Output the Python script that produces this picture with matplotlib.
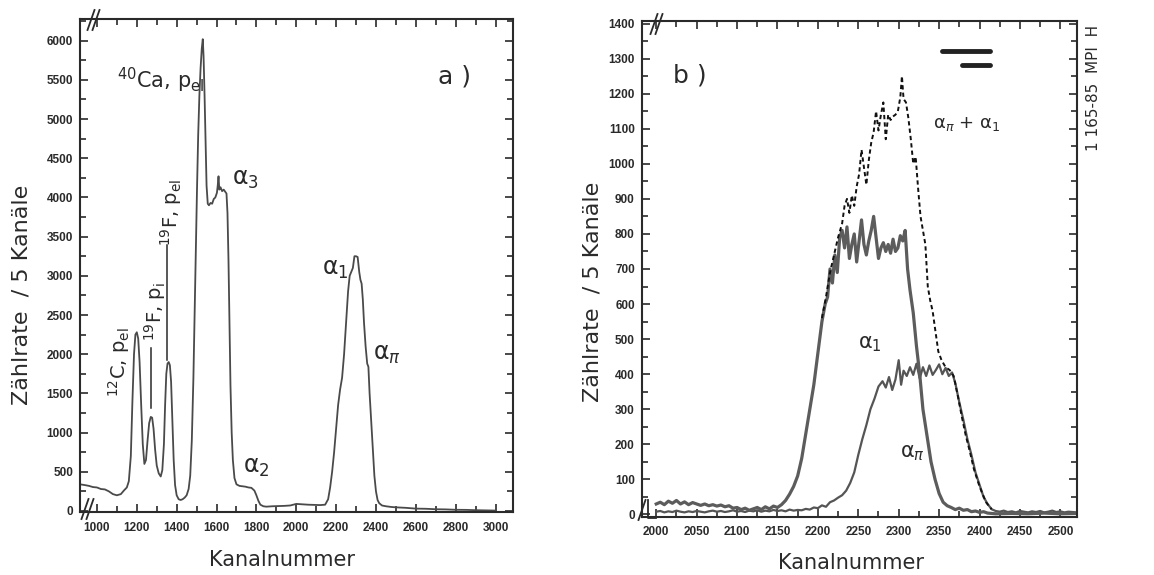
import matplotlib; matplotlib.use('Agg')
import matplotlib.pyplot as plt
from matplotlib.ticker import MultipleLocator
from matplotlib.lines import Line2D

plt.rcParams['font.family'] = ['DejaVu Sans']
plt.rcParams['mathtext.fontset'] = 'dejavusans'
INK = '#2a2a2a'

# ---- panel a) full spectrum (Kanal, Zaehlrate / 5 Kanaele)
kanal_a = [915, 940, 960, 980, 1000, 1020, 1040, 1060, 1080, 1100, 1120, 1135, 1150,
           1160, 1170, 1178, 1186, 1193, 1200, 1207, 1214, 1222, 1230, 1238, 1246,
           1254, 1262, 1270, 1277, 1284, 1292, 1300, 1310, 1320, 1328, 1336, 1342,
           1348, 1354, 1360, 1366, 1372, 1378, 1385, 1392, 1400, 1410, 1420, 1430,
           1440, 1450, 1460, 1468, 1476, 1484, 1490, 1496, 1502, 1508, 1514, 1520,
           1526, 1531, 1535, 1540, 1545, 1550, 1556, 1562, 1570, 1578, 1586, 1594,
           1602, 1606, 1610, 1614, 1620, 1628, 1636, 1644, 1650, 1655, 1660, 1665,
           1670, 1676, 1682, 1690, 1700, 1715, 1730, 1745, 1760, 1775, 1790, 1800,
           1810, 1820, 1835, 1850, 1880, 1910, 1940, 1970, 2000, 2030, 2060, 2090,
           2120, 2145, 2160, 2170, 2180, 2190, 2200, 2210, 2220, 2230, 2240, 2250,
           2260, 2268, 2276, 2284, 2292, 2300, 2308, 2316, 2322, 2328, 2334, 2340,
           2348, 2356, 2362, 2368, 2376, 2384, 2392, 2400, 2408, 2416, 2430, 2450,
           2480, 2510, 2550, 2600, 2650, 2700, 2750, 2800, 2850, 2900, 2950, 3000]
zr_a = [340, 330, 320, 305, 300, 280, 275, 250, 215, 200, 215, 260, 300,
        380, 700, 1400, 2000, 2250, 2280, 2200, 1900, 1350, 850, 600, 650,
        900, 1120, 1200, 1190, 1050, 780, 580, 480, 440, 520, 850, 1350,
        1750, 1880, 1900, 1860, 1650, 1200, 650, 330, 200, 150, 140, 150,
        170, 200, 280, 450, 900, 1700, 2500, 3300, 4100, 4800, 5300, 5650,
        5900, 6020, 5800, 5300, 4700, 4150, 3920, 3900, 3930, 3920, 3980, 4000,
        4060, 4150, 4270, 4100, 4130, 4080, 4100, 4070, 4050, 3800, 3200, 2400,
        1600, 1000, 650, 420, 340, 320, 315, 310, 300, 295, 260, 200,
        130, 80, 60, 55, 60, 62, 65, 70, 90, 85, 80, 78,
        75, 80, 150, 300, 500, 750, 1050, 1350, 1550, 1700, 2000, 2400,
        2800, 3000, 3050, 3100, 3250, 3250, 3240, 3050, 2950, 2900, 2700, 2400,
        2100, 1880, 1840, 1500, 1150, 800, 450, 250, 140, 100, 70, 60,
        50, 45, 40, 30, 28, 22, 20, 15, 14, 10, 8, 5]

# ---- panel b) alpha_1, alpha_pi and their sum
kanal_1 = [2000, 2005, 2010, 2015, 2020, 2025, 2030, 2035, 2040, 2045, 2050, 2055,
           2060, 2065, 2070, 2075, 2080, 2085, 2090, 2095, 2100, 2105, 2110, 2115,
           2120, 2125, 2130, 2135, 2140, 2145, 2150, 2155, 2160, 2165, 2170, 2175,
           2180, 2185, 2190, 2195, 2200, 2205, 2209, 2212, 2215, 2218, 2221, 2224,
           2227, 2230, 2233, 2236, 2239, 2242, 2245, 2248, 2251, 2254, 2257, 2260,
           2263, 2266, 2269, 2272, 2275, 2278, 2281, 2284, 2287, 2290, 2293, 2296,
           2299, 2302, 2305, 2308, 2311, 2314, 2318, 2322, 2326, 2330, 2335, 2340,
           2345, 2350, 2355, 2360, 2365, 2370, 2375, 2380, 2385, 2390, 2395, 2400,
           2405, 2410, 2415, 2420, 2440, 2460, 2480, 2500, 2520]
alpha1 = [30, 35, 28, 38, 32, 40, 30, 36, 28, 34, 30, 26,
          30, 25, 28, 24, 27, 22, 25, 18, 20, 14, 18, 12,
          16, 20, 14, 22, 16, 24, 20, 28, 40, 58, 80, 110,
          160, 230, 300, 370, 460, 550, 600, 620, 700, 660, 740, 690,
          790, 810, 760, 820, 730, 770, 800, 720, 780, 840, 770, 740,
          780, 810, 850, 790, 730, 760, 775, 750, 770, 745, 785, 750,
          760, 795, 780, 810, 700, 640, 575, 480, 400, 300, 225, 150,
          100, 60, 35, 25, 20, 14, 18, 12, 14, 8, 10, 6,
          8, 4, 3, 2, 3, 2, 4, 2, 3]

kanal_pi = [2000, 2005, 2010, 2015, 2020, 2025, 2030, 2035, 2040, 2045, 2050, 2055,
            2060, 2065, 2070, 2075, 2080, 2085, 2090, 2095, 2100, 2105, 2110, 2115,
            2120, 2125, 2130, 2135, 2140, 2145, 2150, 2155, 2160, 2165, 2170, 2175,
            2180, 2185, 2190, 2195, 2200, 2205, 2210, 2215, 2220, 2225, 2230, 2235,
            2240, 2245, 2250, 2255, 2260, 2265, 2270, 2275, 2280, 2284, 2288, 2292,
            2296, 2300, 2303, 2306, 2310, 2314, 2318, 2322, 2326, 2330, 2334, 2338,
            2342, 2346, 2350, 2354, 2358, 2362, 2366, 2370, 2375, 2380, 2385, 2390,
            2395, 2400, 2405, 2410, 2415, 2420, 2425, 2430, 2435, 2440, 2445, 2450,
            2455, 2460, 2465, 2470, 2475, 2480, 2485, 2490, 2495, 2500, 2505, 2510,
            2515, 2520]
alpha_pi = [8, 10, 6, 9, 7, 11, 8, 6, 9, 7, 10, 8,
            6, 9, 11, 8, 10, 7, 9, 12, 8, 10, 7, 11,
            9, 12, 8, 11, 9, 13, 10, 12, 9, 14, 11, 13,
            12, 16, 14, 20, 18, 26, 22, 35, 40, 48, 55, 68,
            90, 120, 170, 215, 255, 300, 330, 365, 380, 362, 392, 355,
            385, 440, 370, 410, 395, 420, 398, 430, 388, 420, 395, 425,
            398, 412, 428, 400, 418, 395, 405, 375, 320, 270, 215, 170,
            120, 85, 50, 30, 15, 10, 8, 11, 7, 9, 6, 10,
            8, 6, 9, 7, 10, 6, 8, 11, 7, 9, 6, 8,
            7, 6]

kanal_sum = [2205, 2210, 2215, 2220, 2225, 2230, 2233, 2236, 2239, 2242, 2245, 2248,
             2251, 2254, 2257, 2260, 2263, 2266, 2269, 2272, 2275, 2278, 2281, 2284,
             2287, 2290, 2293, 2296, 2299, 2302, 2304, 2306, 2309, 2312, 2315, 2318,
             2321, 2324, 2327, 2330, 2333, 2336, 2339, 2342, 2345, 2349, 2353, 2358,
             2363, 2368, 2373, 2378, 2383, 2388, 2393, 2400, 2408, 2415]
alpha_sum = [560, 620, 690, 740, 790, 830, 880, 900, 860, 910, 880, 935,
             970, 1040, 990, 940, 1010, 1060, 1090, 1150, 1095, 1140, 1175, 1070,
             1140, 1125, 1135, 1140, 1150, 1190, 1250, 1185, 1175, 1130, 1070, 1000,
             1020, 930, 850, 810, 770, 650, 610, 580, 530, 465, 440, 420,
             412, 395, 340, 280, 225, 180, 130, 80, 35, 15]

xt_a = [1000, 1200, 1400, 1600, 1800, 2000, 2200, 2400, 2600, 2800, 3000]
yt_a = [0, 500, 1000, 1500, 2000, 2500, 3000, 3500, 4000, 4500, 5000, 5500, 6000]
xt_b = [2000, 2050, 2100, 2150, 2200, 2250, 2300, 2350, 2400, 2450, 2500]
yt_b = [0, 100, 200, 300, 400, 500, 600, 700, 800, 900, 1000, 1100, 1200, 1300, 1400]

W, H = 1154, 575
fig = plt.figure(figsize=(W / 100, H / 100), dpi=100)
ax_a = fig.add_axes([80 / W, 1 - 512.3 / H, 432.5 / W, 493 / H])
ax_b = fig.add_axes([641.7 / W, 1 - 517.3 / H, 435.6 / W, 496.6 / H])


def style(ax, xt, yt, xmin, ymin, xpad):
    for s in ax.spines.values():
        s.set_linewidth(1.5)
        s.set_color(INK)
    tkw = dict(fontfamily='Liberation Sans', fontweight='bold', fontsize=8.5, color=INK)
    ax.set_xticks(xt, labels=[str(v) for v in xt], **tkw)
    ax.set_yticks(yt, labels=[str(v) for v in yt], **tkw)
    ax.xaxis.set_minor_locator(MultipleLocator(xmin))
    ax.yaxis.set_minor_locator(MultipleLocator(ymin))
    ax.tick_params(which='both', direction='in', top=True, right=True, color=INK, width=1.2)
    ax.tick_params(which='major', length=6)
    ax.tick_params(which='minor', length=4)
    ax.tick_params(axis='x', pad=xpad)
    ax.tick_params(axis='y', pad=5)


def slash(x, y, h=10, w=3.5):
    # short slanted stroke, figure pixel coords from the top left
    fig.add_artist(Line2D([(x - w) / W, (x + w) / W], [1 - (y + h) / H, 1 - (y - h) / H],
                          color=INK, lw=1.3))


# panel a
ax_a.plot(kanal_a, zr_a, color='#4a4a4a', lw=1.3)
ax_a.set_xlim(915, 3085)
ax_a.set_ylim(-17, 6273)
style(ax_a, xt_a, yt_a, 100, 250, 7)

ax_a.text(1100, 5400, r'$^{40}$Ca, p$_{\mathrm{el}}$', fontsize=15, color=INK)
ax_a.text(2709, 5459, 'a )', fontsize=18, color=INK)
ax_a.text(1679, 4158, r'α$_3$', fontsize=17, color=INK)
ax_a.text(2131, 3010, r'α$_1$', fontsize=17, color=INK)
ax_a.text(2387, 1926, r'α$_\pi$', fontsize=17, color=INK)
ax_a.text(1734, 485, r'α$_2$', fontsize=17, color=INK)
ax_a.text(1110, 1900, r'$^{12}$C, p$_{\mathrm{el}}$', fontsize=14, rotation=90,
          ha='center', va='center', color=INK)
ax_a.text(1292, 2540, r'$^{19}$F, p$_{\mathrm{i}}$', fontsize=14, rotation=90,
          ha='center', va='center', color=INK)
ax_a.text(1372, 3810, r'$^{19}$F, p$_{\mathrm{el}}$', fontsize=14, rotation=90,
          ha='center', va='center', color=INK)
ax_a.plot([1271, 1271], [1314, 2080], color=INK, lw=1.1)
ax_a.plot([1353, 1353], [1930, 3390], color=INK, lw=1.1)

# panel b
ax_b.plot(kanal_pi, alpha_pi, color='#555555', lw=1.6)
ax_b.plot(kanal_1, alpha1, color='#5c5c5c', lw=2.3)
ax_b.plot(kanal_sum, alpha_sum, color='#111111', lw=1.4, ls=(0, (2.2, 1.6)))
ax_b.set_xlim(1982, 2521)
ax_b.set_ylim(-8, 1408)
style(ax_b, xt_b, yt_b, 25, 50, 6.5)

ax_b.text(2021, 1231, 'b )', fontsize=18, color=INK)
ax_b.text(2343, 1103, r'α$_\pi$ + α$_1$', fontsize=13, color=INK)
ax_b.text(2250, 475, r'α$_1$', fontsize=15, color=INK)
ax_b.text(2302, 163, r'α$_\pi$', fontsize=15, color=INK)
ax_b.plot([0.69, 0.80], [0.9385, 0.9385], transform=ax_b.transAxes, lw=3.5,
          color='#222222', solid_capstyle='round')
ax_b.plot([0.736, 0.80], [0.911, 0.911], transform=ax_b.transAxes, lw=3.5,
          color='#222222', solid_capstyle='round')

# axis breaks
for x, y in [(85, 509), (90, 509), (91, 20), (96, 20), (654, 24), (659, 24), (642, 510)]:
    slash(x, y)
fig.add_artist(Line2D([648 / W, 648 / W, 656 / W], [1 - 500 / H, 1 - 518 / H, 1 - 518 / H],
                      color=INK, lw=1.3))

# axis titles
ylab = 'Zählrate  / 5 Kanäle'
fig.text(22 / W, 1 - 295 / H, ylab, rotation=90, ha='center', va='center', fontsize=16, color=INK)
fig.text(592 / W, 1 - 292 / H, ylab, rotation=90, ha='center', va='center', fontsize=16, color=INK)
fig.text(282 / W, 1 - 560 / H, 'Kanalnummer', ha='center', va='center', fontsize=15, color=INK)
fig.text(851 / W, 1 - 563 / H, 'Kanalnummer', ha='center', va='center', fontsize=15, color=INK)
fig.text(1093 / W, 1 - 88 / H, '1 165-85  MPI  H', rotation=90, ha='center', va='center',
         fontsize=11, color=INK)

fig.savefig('out.png', dpi=100)
